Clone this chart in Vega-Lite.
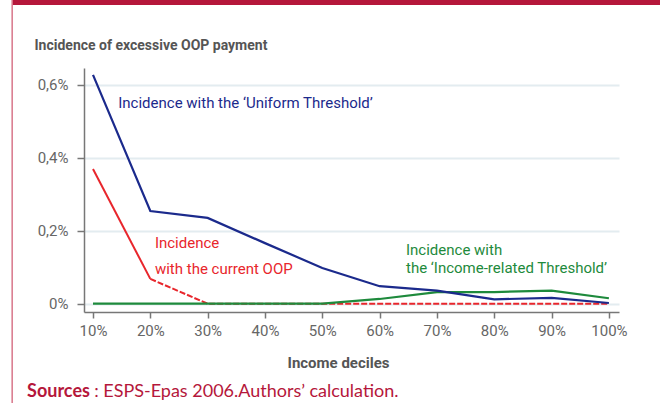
{
  "$schema": "https://vega.github.io/schema/vega-lite/v6.json",
  "width": 535,
  "height": 244,
  "autosize": "none",
  "padding": {"left": 84, "top": 68, "right": 41, "bottom": 91},
  "background": "white",
  "config": {
    "view": {"stroke": null},
    "font": "Roboto, sans-serif"
  },
  "datasets": {
    "lines": [
      {"decile": 10, "value": 0.627, "series": "Uniform"},
      {"decile": 20, "value": 0.254, "series": "Uniform"},
      {"decile": 30, "value": 0.235, "series": "Uniform"},
      {"decile": 40, "value": 0.166, "series": "Uniform"},
      {"decile": 50, "value": 0.098, "series": "Uniform"},
      {"decile": 60, "value": 0.048, "series": "Uniform"},
      {"decile": 70, "value": 0.036, "series": "Uniform"},
      {"decile": 80, "value": 0.012, "series": "Uniform"},
      {"decile": 90, "value": 0.016, "series": "Uniform"},
      {"decile": 100, "value": 0.002, "series": "Uniform"},
      {"decile": 10, "value": 0.0, "series": "Income"},
      {"decile": 20, "value": 0.0, "series": "Income"},
      {"decile": 30, "value": 0.0, "series": "Income"},
      {"decile": 40, "value": 0.0, "series": "Income"},
      {"decile": 50, "value": 0.0, "series": "Income"},
      {"decile": 60, "value": 0.013, "series": "Income"},
      {"decile": 70, "value": 0.032, "series": "Income"},
      {"decile": 80, "value": 0.032, "series": "Income"},
      {"decile": 90, "value": 0.036, "series": "Income"},
      {"decile": 100, "value": 0.015, "series": "Income"},
      {"decile": 10, "value": 0.369, "series": "CurrentSolid"},
      {"decile": 20, "value": 0.068, "series": "CurrentSolid"},
      {"decile": 20, "value": 0.068, "series": "CurrentDashed"},
      {"decile": 30, "value": 0.0, "series": "CurrentDashed"},
      {"decile": 40, "value": 0.0, "series": "CurrentDashed"},
      {"decile": 50, "value": 0.0, "series": "CurrentDashed"},
      {"decile": 60, "value": 0.0, "series": "CurrentDashed"},
      {"decile": 70, "value": 0.0, "series": "CurrentDashed"},
      {"decile": 80, "value": 0.0, "series": "CurrentDashed"},
      {"decile": 90, "value": 0.0, "series": "CurrentDashed"},
      {"decile": 100, "value": 0.0, "series": "CurrentDashed"}
    ],
    "labels": [
      {"decile": 14.4, "value": 0.55, "text": "Incidence with the ‘Uniform Threshold’", "series": "Uniform"},
      {"decile": 20.8, "value": 0.166, "text": "Incidence", "series": "Current"},
      {"decile": 20.8, "value": 0.095, "text": "with the current OOP", "series": "Current"},
      {"decile": 64.6, "value": 0.147, "text": "Incidence with", "series": "Income"},
      {"decile": 64.6, "value": 0.097, "text": "the ‘Income-related Threshold’", "series": "Income"}
    ],
    "one": [{}]
  },
  "layer": [
    {
      "data": {"name": "lines"},
      "transform": [{"filter": "datum.series == 'CurrentSolid'"}],
      "mark": {"type": "line", "color": "#e8262c", "strokeWidth": 2},
      "encoding": {
        "x": {
          "field": "decile", "type": "quantitative",
          "scale": {"domain": [8.43, 101.76], "nice": false, "zero": false},
          "axis": {
            "values": [10, 20, 30, 40, 50, 60, 70, 80, 90, 100],
            "labelExpr": "datum.value + '%'",
            "grid": false,
            "domainColor": "#777777", "domainWidth": 1.5,
            "tickColor": "#777777", "tickWidth": 1.5, "tickSize": 6,
            "labelColor": "#666666", "labelFontSize": 15, "labelPadding": 5,
            "title": "Income deciles",
            "titleFontSize": 15, "titleFontWeight": "bold", "titleColor": "#555555",
            "titleX": 254, "titleY": 50, "titleBaseline": "middle", "titleAlign": "center"
          }
        },
        "y": {
          "field": "value", "type": "quantitative",
          "scale": {"domain": [-0.0227, 0.6458], "nice": false, "zero": false},
          "axis": {
            "values": [0, 0.2, 0.4, 0.6],
            "labelExpr": "datum.value == 0 ? '0%' : replace(format(datum.value, '.1f'), '.', ',') + '%'",
            "grid": true, "gridColor": "#e3ecf0", "gridWidth": 2,
            "domainColor": "#777777", "domainWidth": 1.5,
            "tickColor": "#777777", "tickWidth": 1.5, "tickSize": 7,
            "labelColor": "#666666", "labelFontSize": 15, "labelPadding": 9,
            "title": "Incidence of excessive OOP payment",
            "titleFontSize": 14, "titleFontWeight": "bold", "titleColor": "#555555",
            "titleAngle": 0, "titleAlign": "left", "titleBaseline": "middle",
            "titleX": -50, "titleY": -23
          }
        }
      }
    },
    {
      "data": {"name": "lines"},
      "transform": [{"filter": "datum.series == 'CurrentDashed'"}],
      "mark": {"type": "line", "color": "#e8262c", "strokeWidth": 2, "strokeDash": [6, 2]},
      "encoding": {
        "x": {"field": "decile", "type": "quantitative"},
        "y": {"field": "value", "type": "quantitative"}
      }
    },
    {
      "data": {"name": "lines"},
      "transform": [{"filter": "datum.series == 'Income'"}],
      "mark": {"type": "line", "color": "#1e8a3c", "strokeWidth": 2.2},
      "encoding": {
        "x": {"field": "decile", "type": "quantitative"},
        "y": {"field": "value", "type": "quantitative"}
      }
    },
    {
      "data": {"name": "lines"},
      "transform": [{"filter": "datum.series == 'Uniform'"}],
      "mark": {"type": "line", "color": "#1b2a8c", "strokeWidth": 2.2},
      "encoding": {
        "x": {"field": "decile", "type": "quantitative"},
        "y": {"field": "value", "type": "quantitative"}
      }
    },
    {
      "data": {"name": "labels"},
      "mark": {"type": "text", "align": "left", "baseline": "middle", "fontSize": 15},
      "encoding": {
        "x": {"field": "decile", "type": "quantitative"},
        "y": {"field": "value", "type": "quantitative"},
        "text": {"field": "text"},
        "color": {
          "field": "series", "type": "nominal", "legend": null,
          "scale": {"domain": ["Uniform", "Current", "Income"], "range": ["#1b2a8c", "#e8262c", "#1e8a3c"]}
        }
      }
    },
    {
      "data": {"name": "one"},
      "mark": {"type": "rule", "color": "#b5173b", "strokeWidth": 5, "clip": false},
      "encoding": {
        "x": {"datum": -4.1, "type": "quantitative"},
        "x2": {"datum": 109},
        "y": {"datum": 0.8255, "type": "quantitative"}
      }
    },
    {
      "data": {"name": "one"},
      "mark": {"type": "rule", "color": "#d8768a", "strokeWidth": 1.5, "clip": false},
      "encoding": {
        "x": {"datum": -4.1, "type": "quantitative"},
        "y": {"datum": 0.832, "type": "quantitative"},
        "y2": {"datum": -0.28}
      }
    },
    {
      "data": {"name": "one"},
      "mark": {"type": "text", "align": "left", "baseline": "middle", "fontSize": 18, "fontWeight": "bold", "color": "#b5173b", "clip": false, "font": "Lato, sans-serif"},
      "encoding": {
        "x": {"datum": -1.5, "type": "quantitative"},
        "y": {"datum": -0.242, "type": "quantitative"},
        "text": {"value": "Sources"}
      }
    },
    {
      "data": {"name": "one"},
      "mark": {"type": "text", "align": "left", "baseline": "middle", "fontSize": 18, "color": "#b5173b", "clip": false, "font": "Lato, sans-serif"},
      "encoding": {
        "x": {"datum": 10.2, "type": "quantitative"},
        "y": {"datum": -0.242, "type": "quantitative"},
        "text": {"value": ": ESPS-Epas 2006.Authors’ calculation."}
      }
    }
  ]
}
